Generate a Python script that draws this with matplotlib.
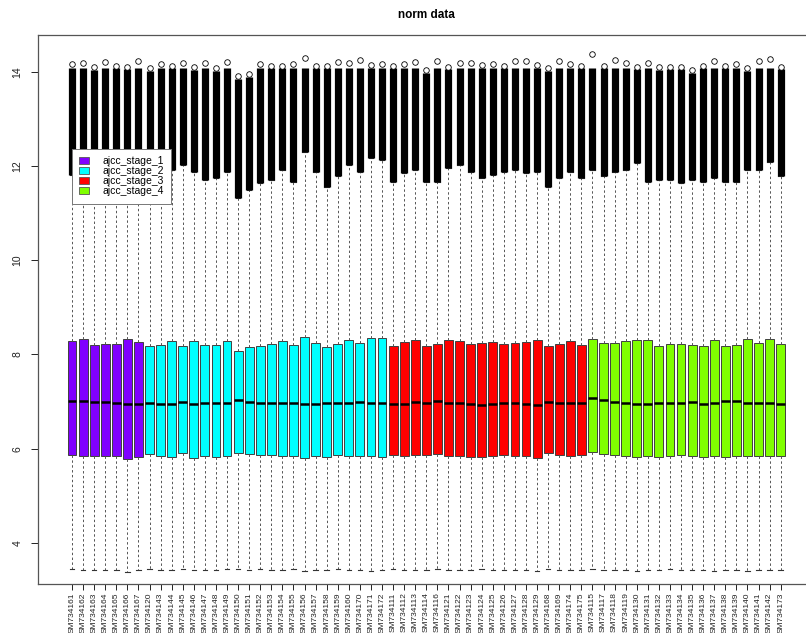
import numpy as np
import matplotlib
matplotlib.use("Agg")
import matplotlib.pyplot as plt
from matplotlib.patches import Patch

plt.rcParams["font.family"] = ["Liberation Sans", "DejaVu Sans"]

# sample ids grouped by stage
stage_1 = ["SM734161", "SM734162", "SM734163", "SM734164", "SM734165", "SM734166", "SM734167"]
stage_2 = ["SM734120", "SM734143", "SM734144", "SM734145", "SM734146", "SM734147", "SM734148",
           "SM734149", "SM734150", "SM734151", "SM734152", "SM734153", "SM734154", "SM734155",
           "SM734156", "SM734157", "SM734158", "SM734159", "SM734160", "SM734170", "SM734171",
           "SM734172"]
stage_3 = ["SM734111", "SM734112", "SM734113", "SM734114", "SM734116", "SM734121", "SM734122",
           "SM734123", "SM734124", "SM734125", "SM734126", "SM734127", "SM734128", "SM734129",
           "SM734168", "SM734169", "SM734174", "SM734175"]
stage_4 = ["SM734115", "SM734117", "SM734118", "SM734119", "SM734130", "SM734131", "SM734132",
           "SM734133", "SM734134", "SM734135", "SM734136", "SM734137", "SM734138", "SM734139",
           "SM734140", "SM734141", "SM734142", "SM734173"]
stage_names = ["ajcc_stage_1", "ajcc_stage_2", "ajcc_stage_3", "ajcc_stage_4"]
stage_colors = ["#8000FF", "#00FFFF", "#FF0000", "#80FF00"]

# box statistics per sample
whisker_lo = [3.44, 3.43, 3.43, 3.42, 3.43, 3.38, 3.42,
              3.44, 3.43, 3.42, 3.44, 3.43, 3.42, 3.43, 3.44, 3.45, 3.43, 3.44, 3.42, 3.43, 3.44,
              3.41, 3.43, 3.42, 3.44, 3.43, 3.42, 3.41, 3.43,
              3.44, 3.43, 3.42, 3.43, 3.44, 3.43, 3.42, 3.43, 3.44, 3.42, 3.43, 3.42, 3.43, 3.41,
              3.44, 3.43, 3.42, 3.43,
              3.45, 3.43, 3.42, 3.43, 3.41, 3.43, 3.42, 3.44, 3.43, 3.42, 3.43, 3.41, 3.42, 3.43,
              3.41, 3.42, 3.43, 3.42]
q1 = [5.87, 5.85, 5.85, 5.85, 5.85, 5.79, 5.83,
      5.88, 5.85, 5.82, 5.91, 5.81, 5.85, 5.82, 5.85, 5.92, 5.89, 5.87, 5.86, 5.85, 5.84, 5.80,
      5.85, 5.83, 5.86, 5.84, 5.85, 5.84, 5.83,
      5.87, 5.84, 5.86, 5.87, 5.89, 5.84, 5.84, 5.82, 5.82, 5.84, 5.86, 5.84, 5.84, 5.80, 5.91,
      5.86, 5.84, 5.86,
      5.94, 5.89, 5.86, 5.85, 5.82, 5.85, 5.83, 5.84, 5.86, 5.84, 5.82, 5.85, 5.83, 5.85, 5.84,
      5.84, 5.84, 5.84]
median = [7.02, 7.02, 6.99, 6.99, 6.98, 6.94, 6.96,
          6.98, 6.96, 6.94, 6.99, 6.94, 6.98, 6.98, 6.98, 7.03, 7.00, 6.98, 6.98, 6.98, 6.97,
          6.95, 6.96, 6.97, 6.98, 6.98, 6.99, 6.98, 6.98,
          6.96, 6.96, 7.00, 6.98, 7.02, 6.98, 6.98, 6.94, 6.93, 6.94, 6.98, 6.97, 6.96, 6.93,
          7.00, 6.98, 6.97, 6.97,
          7.08, 7.03, 6.99, 6.98, 6.94, 6.96, 6.97, 6.98, 6.97, 7.00, 6.96, 6.98, 7.01, 7.02,
          6.98, 6.97, 6.98, 6.95]
q3 = [8.28, 8.32, 8.21, 8.23, 8.23, 8.32, 8.26,
      8.19, 8.21, 8.28, 8.17, 8.28, 8.20, 8.20, 8.28, 8.08, 8.15, 8.17, 8.23, 8.28, 8.21, 8.38,
      8.25, 8.15, 8.23, 8.30, 8.25, 8.36, 8.34,
      8.19, 8.26, 8.30, 8.19, 8.22, 8.31, 8.29, 8.23, 8.25, 8.27, 8.23, 8.25, 8.26, 8.30, 8.17,
      8.23, 8.28, 8.21,
      8.32, 8.25, 8.25, 8.28, 8.31, 8.30, 8.19, 8.22, 8.22, 8.21, 8.18, 8.30, 8.19, 8.21, 8.33,
      8.25, 8.32, 8.22]
whisker_hi = [11.81, 11.92, 11.75, 11.85, 11.92, 11.94, 11.81,
              11.60, 12.06, 11.92, 12.02, 11.87, 11.70, 11.75, 11.87, 11.32, 11.49, 11.64, 11.70,
              11.92, 11.66, 12.30, 11.87, 11.56, 11.79, 12.02, 11.87, 12.17, 12.13,
              11.66, 11.85, 11.92, 11.66, 11.66, 11.96, 12.02, 11.87, 11.75, 11.81, 11.87, 11.92,
              11.85, 11.87, 11.56, 11.75, 11.87, 11.75,
              11.92, 11.79, 11.87, 11.92, 12.06, 11.66, 11.70, 11.70, 11.64, 11.70, 11.66, 11.75,
              11.66, 11.66, 11.92, 11.92, 12.08, 11.79]
# highest outlier per sample
top_point = [14.16, 14.18, 14.09, 14.21, 14.13, 14.11, 14.22,
             14.08, 14.16, 14.13, 14.18, 14.09, 14.18, 14.08, 14.20, 13.90, 13.95, 14.16, 14.13,
             14.13, 14.17, 14.29, 14.13, 14.13, 14.21, 14.18, 14.24, 14.15, 14.16,
             14.13, 14.16, 14.21, 14.04, 14.22, 14.11, 14.18, 14.18, 14.15, 14.17, 14.13, 14.22,
             14.22, 14.15, 14.08, 14.23, 14.17, 14.13,
             14.38, 14.13, 14.24, 14.18, 14.11, 14.18, 14.09, 14.11, 14.11, 14.04, 14.13, 14.22,
             14.13, 14.17, 14.08, 14.22, 14.27, 14.11]

groups = [stage_1, stage_2, stage_3, stage_4]
samples = sum(groups, [])
colors = sum([[c] * len(g) for c, g in zip(stage_colors, groups)], [])
pos = np.arange(1, len(samples) + 1)

fig = plt.figure(figsize=(8.06, 6.33), dpi=100)
ax = fig.add_axes([37.7 / 806, 1 - 584 / 633, (815 - 37.7) / 806, (584 - 34.5) / 633])

stats = []
for i, name in enumerate(samples):
    stats.append(dict(label=name, whislo=whisker_lo[i], q1=q1[i], med=median[i],
                      q3=q3[i], whishi=whisker_hi[i], fliers=[]))

bp = ax.bxp(stats, positions=pos, widths=0.8, patch_artist=True, showfliers=False,
            boxprops=dict(edgecolor="#404040", linewidth=0.7),
            whiskerprops=dict(color="#555555", linewidth=0.7, linestyle=(0, (2.5, 2.5))),
            capprops=dict(color="#333333", linewidth=0.8),
            medianprops=dict(color="black", linewidth=1.8))
for box, c in zip(bp["boxes"], colors):
    box.set_facecolor(c)

# dense outliers above the upper whisker
band_top = np.minimum(np.array(top_point) - 0.06, 14.08)
ax.vlines(pos, whisker_hi, band_top, color="black", linewidth=5.2, zorder=3)
ax.scatter(pos, top_point, s=16, facecolors="white", edgecolors="black",
           linewidths=0.6, zorder=4)

ax.set_xlim(-2.1, len(samples) + 3.1)
ax.set_ylim(3.13, 14.79)
ax.set_xticks(pos)
ax.set_xticklabels(samples, rotation=90, fontsize=6)
ax.set_yticks([4, 6, 8, 10, 12, 14])
ax.set_yticklabels(["4", "6", "8", "10", "12", "14"], rotation=90, va="center", fontsize=7.5)
ax.tick_params(axis="y", length=5, width=0.7, pad=6, colors="#222222")
ax.tick_params(axis="x", length=4, width=0.7, pad=2, colors="#222222")
for s in ax.spines.values():
    s.set_color("#555555")
    s.set_linewidth(0.9)

fig.text((37.7 + 815) / 2 / 806, 1 - 15 / 633, "norm data", ha="center", va="center",
         fontsize=8.5, fontweight="bold")

handles = [Patch(facecolor=c, edgecolor="#555555", linewidth=0.6) for c in stage_colors]
leg = ax.legend(handles, stage_names, loc="upper left",
                bbox_to_anchor=(72 / 806, 1 - 149 / 633), bbox_transform=fig.transFigure,
                fontsize=7.5, frameon=True, fancybox=False, framealpha=1,
                edgecolor="#777777", handlelength=0.9, handleheight=0.6,
                handletextpad=1.3, labelspacing=0.0, borderpad=0.7, borderaxespad=0)
leg.get_frame().set_linewidth(0.7)
leg.set_zorder(10)

fig.savefig("out.png", dpi=100)
